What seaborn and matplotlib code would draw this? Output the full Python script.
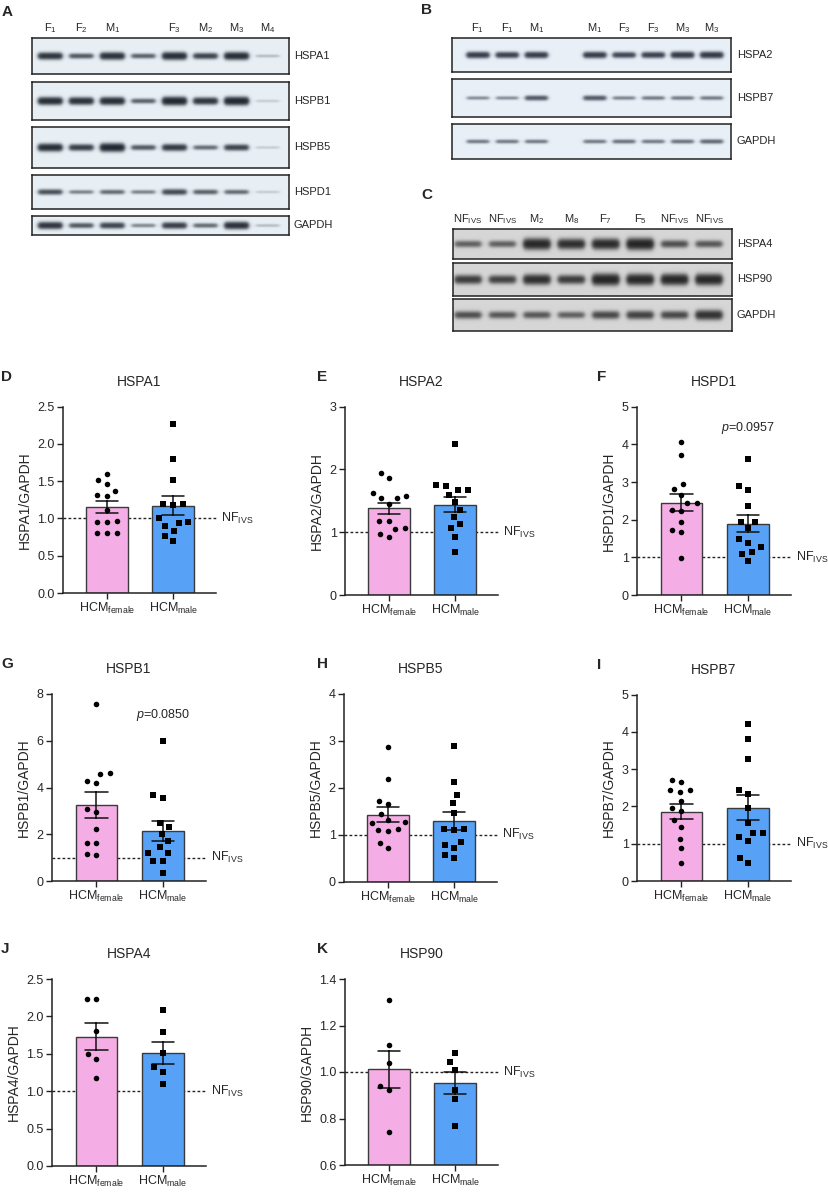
"""
Western blots and HSP quantification, HCM female vs male.
"""

import numpy as np
import pandas as pd

import matplotlib
matplotlib.use("Agg")
import matplotlib.pyplot as plt
import matplotlib.transforms as mtransforms
import seaborn as sns

W, H = 829, 1193

# ---------------- quantified values ----------------
groups = ["female", "male"]
group_labels = [r"HCM$_{\mathrm{female}}$", r"HCM$_{\mathrm{male}}$"]

hspa1_female = [1.60, 1.51, 1.46, 1.37, 1.30, 1.31, 1.12, 0.95, 0.95, 0.97, 0.80, 0.80, 0.80]
hspa1_male = [2.27, 1.80, 1.52, 1.18, 1.20, 1.20, 0.94, 0.95, 1.00, 0.90, 0.83, 0.77, 0.70]

hspa2_female = [1.94, 1.86, 1.57, 1.63, 1.54, 1.55, 1.45, 1.18, 1.18, 1.07, 1.05, 0.93, 0.97]
hspa2_male = [2.40, 1.75, 1.74, 1.67, 1.68, 1.60, 1.48, 1.35, 1.24, 1.13, 1.06, 0.92, 0.68]

hspd1_female = [4.05, 3.73, 2.95, 2.82, 2.65, 2.45, 2.43, 2.25, 2.22, 1.95, 1.73, 1.66, 0.99]
hspd1_male = [3.61, 2.90, 2.78, 2.36, 1.95, 1.95, 1.77, 1.48, 1.39, 1.27, 1.13, 1.10, 0.89]

hspb1_female = [7.57, 4.61, 4.56, 4.27, 4.19, 3.10, 2.97, 2.23, 1.61, 1.61, 1.16, 1.11]
hspb1_male = [5.99, 3.66, 3.57, 2.46, 2.29, 2.00, 1.69, 1.45, 1.20, 1.20, 0.86, 0.86, 0.33]

hspb5_female = [2.88, 2.18, 1.72, 1.65, 1.44, 1.31, 1.26, 1.25, 1.11, 1.10, 1.08, 0.82, 0.72]
hspb5_male = [2.90, 2.13, 1.85, 1.67, 1.47, 1.11, 1.11, 1.09, 0.85, 0.77, 0.71, 0.56, 0.50]

hspb7_female = [2.71, 2.65, 2.45, 2.43, 2.40, 2.15, 1.96, 1.89, 1.64, 1.46, 1.13, 0.88, 0.47]
hspb7_male = [4.22, 3.82, 3.27, 2.45, 2.34, 1.96, 1.57, 1.30, 1.30, 1.19, 1.08, 0.62, 0.48]

hspa4_female = [2.23, 2.23, 1.80, 1.50, 1.43, 1.17]
hspa4_male = [2.08, 1.79, 1.51, 1.32, 1.26, 1.09]

hsp90_female = [1.31, 1.116, 1.04, 0.94, 0.924, 0.74]
hsp90_male = [1.083, 1.044, 1.009, 0.924, 0.882, 0.768]

# band strengths of the blots (0 = nothing, 1 = saturated)
blot_a_lanes = ["F$_1$", "F$_2$", "M$_1$", "", "F$_3$", "M$_2$", "M$_3$", "M$_4$"]
blot_a_names = ["HSPA1", "HSPB1", "HSPB5", "HSPD1", "GAPDH"]
blot_a_hspa1 = [0.80, 0.50, 0.85, 0.45, 0.90, 0.65, 0.90, 0.12]
blot_a_hspb1 = [0.90, 0.85, 0.90, 0.45, 1.00, 0.80, 1.00, 0.08]
blot_a_hspb5 = [0.90, 0.70, 1.00, 0.50, 0.75, 0.40, 0.65, 0.08]
blot_a_hspd1 = [0.55, 0.30, 0.40, 0.30, 0.60, 0.45, 0.40, 0.08]
blot_a_gapdh = [0.80, 0.50, 0.65, 0.28, 0.70, 0.40, 0.85, 0.12]

blot_b_lanes = ["F$_1$", "F$_1$", "M$_1$", "", "M$_1$", "F$_3$", "F$_3$", "M$_3$", "M$_3$"]
blot_b_names = ["HSPA2", "HSPB7", "GAPDH"]
blot_b_hspa2 = [0.80, 0.75, 0.80, 0.0, 0.80, 0.70, 0.75, 0.85, 0.85]
blot_b_hspb7 = [0.28, 0.28, 0.55, 0.0, 0.55, 0.32, 0.36, 0.36, 0.36]
blot_b_gapdh = [0.36, 0.36, 0.36, 0.0, 0.36, 0.40, 0.36, 0.40, 0.45]

blot_c_lanes = [r"NF$_{\mathrm{IVS}}$", r"NF$_{\mathrm{IVS}}$", "M$_2$", "M$_8$",
                "F$_7$", "F$_5$", r"NF$_{\mathrm{IVS}}$", r"NF$_{\mathrm{IVS}}$"]
blot_c_names = ["HSPA4", "HSP90", "GAPDH"]
blot_c_hspa4 = [0.40, 0.40, 0.90, 0.80, 0.85, 0.95, 0.50, 0.45]
blot_c_hsp90 = [0.65, 0.60, 0.80, 0.65, 0.95, 0.90, 0.90, 0.90]
blot_c_gapdh = [0.50, 0.45, 0.45, 0.40, 0.55, 0.60, 0.55, 0.75]

PINK = "#F5AEE5"
BLUE = "#57A2F7"

sns.set_style("ticks")
plt.rcParams["font.family"] = ["Liberation Sans", "DejaVu Sans"]
plt.rcParams["mathtext.fontset"] = "custom"
plt.rcParams["mathtext.rm"] = "Liberation Sans"
plt.rcParams["mathtext.it"] = "Liberation Sans:italic"
plt.rcParams["mathtext.bf"] = "Liberation Sans:bold"


def px_rect(x0, y0, x1, y1):
    """
    Pixel box -> figure fraction box.
    """

    return [x0 / W, 1 - y1 / H, (x1 - x0) / W, (y1 - y0) / H]


def draw_blot_row(ax, strength, left, right, bg, ink, thick, centre=0.5):
    """
    Paint one blot strip from the band strengths.
    """

    n = len(strength)
    xs = np.linspace(-left, n - 1 + right, 500)
    ys = np.linspace(0, 1, 80)
    dark = np.zeros((len(ys), len(xs)))
    for i, s in enumerate(strength):
        hprof = 1 / (1 + np.exp(-(0.37 - np.abs(xs - i)) / 0.035))
        sig = thick * (0.4 + 0.8 * s)
        vprof = np.exp(-0.5 * ((ys - centre) / sig) ** 2)
        dark += s * np.outer(vprof, hprof)
    dark = 1 - np.exp(-2.2 * dark)
    img = (np.array(bg)[None, None, :] * (1 - dark[..., None])
           + np.array(ink)[None, None, :] * dark[..., None])
    ax.imshow(img, extent=(-left, n - 1 + right, 1, 0), aspect="auto",
              interpolation="bilinear")
    ax.set_xlim(-left, n - 1 + right)
    ax.set_ylim(1, 0)
    ax.set_yticks([])
    ax.set_xticks([])
    for sp in ax.spines.values():
        sp.set_linewidth(1.1)
        sp.set_color("#222222")


def draw_blot(fig, x0, x1, rows, names, lanes, left, right, bg, ink,
              label_x, thick):
    """
    Stack of blot strips with lane labels on top.
    """

    axes = []
    for (strength, y0, y1), name in zip(rows, names):
        ax = fig.add_axes(px_rect(x0, y0, x1, y1))
        draw_blot_row(ax, strength, left, right, bg, ink, thick / (y1 - y0))
        fig.text(label_x / W, 1 - (y0 + y1) / 2 / H, name, fontsize=8,
                 va="center", ha="left")
        axes.append(ax)
    top = axes[0]
    top.set_xticks(range(len(lanes)))
    top.set_xticklabels(lanes, fontsize=8)
    top.xaxis.tick_top()
    top.tick_params(axis="x", length=0, pad=2)


def draw_panel(ax, female, male, title, ylim, yticks, fmt, pvalue=None):
    """
    Bar (mean +/- SEM) with individual points.
    """

    df = pd.DataFrame({
        "group": ["female"] * len(female) + ["male"] * len(male),
        "value": female + male
    })

    ax.axhline(1.0, color="#222222", lw=1.0, ls=(0, (2, 1.6)), zorder=0.5,
               clip_on=False)

    sns.barplot(
        data=df, x="group", y="value", hue="group", order=groups,
        palette=[PINK, BLUE], saturation=1, errorbar="se", capsize=0.34,
        width=0.63, edgecolor="#3a3a3a", linewidth=1.0,
        err_kws={"color": "#111111", "linewidth": 1.1},
        legend=False, ax=ax
    )

    # invisible wide edge spreads the swarm like the GraphPad scatter
    sns.swarmplot(data=df[df.group == "female"], x="group", y="value",
                  order=groups, color="black", marker="o", size=4.0,
                  linewidth=2.8, edgecolor=(0, 0, 0, 0), ax=ax)
    sns.swarmplot(data=df[df.group == "male"], x="group", y="value",
                  order=groups, color="black", marker="s", size=3.7,
                  linewidth=3.1, edgecolor=(0, 0, 0, 0), ax=ax)

    ax.set_xlim(-0.67, 1.65)
    ax.set_ylim(*ylim)
    ax.set_yticks(yticks)
    ax.set_yticklabels([fmt.format(t) for t in yticks])
    ax.set_xticks([0, 1])
    ax.set_xticklabels(group_labels)
    ax.set_xlabel("")
    ax.set_ylabel(f"{title}/GAPDH", fontsize=10, labelpad=4)
    ax.set_title(title, fontsize=10, pad=15)

    ax.tick_params(direction="out", length=4, width=1.0, labelsize=9,
                   color="#222222", pad=2)
    sns.despine(ax=ax)
    for side in ["left", "bottom"]:
        ax.spines[side].set_linewidth(1.1)
        ax.spines[side].set_color("#222222")

    trans = mtransforms.blended_transform_factory(ax.transAxes, ax.transData)
    ax.text(1.03, 1.0, r"NF$_{\mathrm{IVS}}$", transform=trans, fontsize=9,
            va="center", ha="left")

    if pvalue is not None:
        ax.text(1, pvalue[1], r"$\it{p}$=" + pvalue[0], fontsize=9,
                ha="center", va="center")


fig = plt.figure(figsize=(W / 100, H / 100), dpi=100)

# ---------------- blots ----------------
draw_blot(
    fig, 32, 289,
    [(blot_a_hspa1, 38, 74), (blot_a_hspb1, 82, 120), (blot_a_hspb5, 127, 168),
     (blot_a_hspd1, 175, 209), (blot_a_gapdh, 216, 235)],
    blot_a_names, blot_a_lanes, 0.58, 0.68,
    (0.91, 0.94, 0.96), (0.04, 0.06, 0.10), 294, 2.1
)
draw_blot(
    fig, 452, 731,
    [(blot_b_hspa2, 38, 72), (blot_b_hspb7, 79, 117), (blot_b_gapdh, 124, 159)],
    blot_b_names, blot_b_lanes, 0.88, 0.65,
    (0.91, 0.94, 0.97), (0.08, 0.10, 0.16), 737, 1.9
)
draw_blot(
    fig, 453, 732,
    [(blot_c_hspa4, 229, 259), (blot_c_hsp90, 263, 296), (blot_c_gapdh, 299, 331)],
    blot_c_names, blot_c_lanes, 0.43, 0.66,
    (0.84, 0.84, 0.84), (0.05, 0.05, 0.05), 737, 3.0
)

# ---------------- bar panels ----------------
panels = [
    ("D", "HSPA1", hspa1_female, hspa1_male, (0, 2.5), [0, 0.5, 1.0, 1.5, 2.0, 2.5], "{:.1f}", None, (63, 406.7, 216, 593)),
    ("E", "HSPA2", hspa2_female, hspa2_male, (0, 3), [0, 1, 2, 3], "{:.0f}", None, (345, 406.7, 498, 595)),
    ("F", "HSPD1", hspd1_female, hspd1_male, (0, 5), [0, 1, 2, 3, 4, 5], "{:.0f}", ("0.0957", 4.43), (637, 406.7, 791, 595)),
    ("G", "HSPB1", hspb1_female, hspb1_male, (0, 8), [0, 2, 4, 6, 8], "{:.0f}", ("0.0850", 7.1), (52, 694, 206, 881)),
    ("H", "HSPB5", hspb5_female, hspb5_male, (0, 4), [0, 1, 2, 3, 4], "{:.0f}", None, (344, 694, 497, 881.5)),
    ("I", "HSPB7", hspb7_female, hspb7_male, (0, 5), [0, 1, 2, 3, 4, 5], "{:.0f}", None, (637, 694.7, 791, 881)),
    ("J", "HSPA4", hspa4_female, hspa4_male, (0, 2.5), [0, 0.5, 1.0, 1.5, 2.0, 2.5], "{:.1f}", None, (52, 979, 206, 1166)),
    ("K", "HSP90", hsp90_female, hsp90_male, (0.6, 1.4), [0.6, 0.8, 1.0, 1.2, 1.4], "{:.1f}", None, (345, 979, 498, 1165)),
]

letter_x = {"D": 1, "G": 1, "J": 1, "E": 317, "H": 317, "K": 317, "F": 597, "I": 597}

for letter, title, fem, mal, ylim, yticks, fmt, pval, box in panels:
    ax = fig.add_axes(px_rect(*box))
    draw_panel(ax, fem, mal, title, ylim, yticks, fmt, pval)
    fig.text(letter_x[letter] / W, 1 - (box[1] - 30) / H, letter,
             fontsize=11, fontweight="bold", va="center", ha="left")

# blot letters
for letter, x, y in [("A", 2, 12), ("B", 421, 10), ("C", 421, 195)]:
    fig.text(x / W, 1 - y / H, letter, fontsize=11, fontweight="bold",
             va="center", ha="left")

fig.savefig("out.png", dpi=100)
